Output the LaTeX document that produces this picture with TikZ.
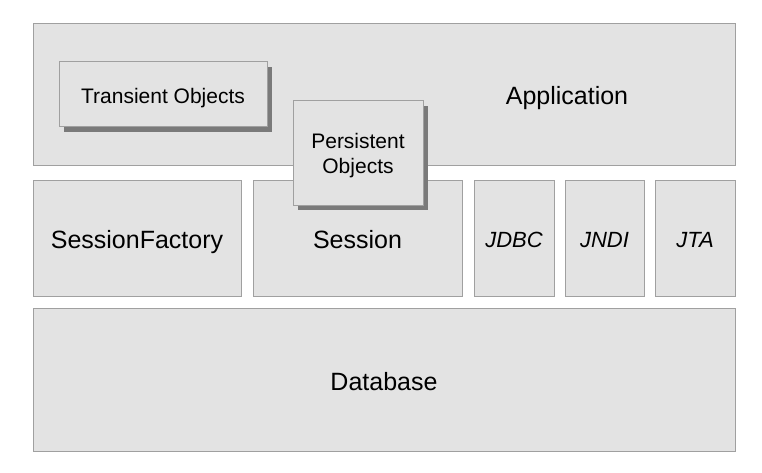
\documentclass[tikz,border=0pt]{standalone}
\usepackage{fontspec}
\setmainfont{Liberation Sans}
\usetikzlibrary{shadows}
\definecolor{boxfill}{HTML}{E3E3E3}
\definecolor{boxline}{HTML}{A0A0A0}
\definecolor{shadowc}{HTML}{7A7A7A}
\begin{document}
\begin{tikzpicture}[x=1pt,y=-1pt,
  layer/.style={draw=boxline, fill=boxfill, line width=1pt, inner sep=0pt, rectangle},
  objbox/.style={layer, drop shadow={shadow xshift=5pt, shadow yshift=-5pt, fill=shadowc, opacity=1}, align=center},
  big/.style={font=\fontsize{25}{30}\selectfont},
  small/.style={font=\fontsize{21}{24}\selectfont},
  ital/.style={font=\fontsize{22}{26}\selectfont\itshape}
]
\useasboundingbox[fill=white] (0,0) rectangle (762,473);
% Application layer
\node[layer, minimum width=702pt, minimum height=142pt] (app) at (384,95) {};
\node[big] (applbl) at (567,98) {Application};
% Middle layer
\node[layer, minimum width=208pt, minimum height=116pt] (sf) at (137,238) {};
\node[big] (sflbl) at (137,242) {SessionFactory};
\node[layer, minimum width=209pt, minimum height=116pt] (sess) at (357.5,238) {};
\node[big] (sesslbl) at (357.5,240) {Session};
\node[layer, minimum width=80pt, minimum height=116pt] (jdbc) at (514,238) {};
\node[ital] (jdbclbl) at (514,240) {JDBC};
\node[layer, minimum width=79pt, minimum height=116pt] (jndi) at (604.5,238) {};
\node[ital] (jndilbl) at (604.5,240) {JNDI};
\node[layer, minimum width=80pt, minimum height=116pt] (jta) at (695,238) {};
\node[ital] (jtalbl) at (695,240) {JTA};
% Database
\node[layer, minimum width=702pt, minimum height=143pt] (db) at (384,379.5) {};
\node[big] (dblbl) at (384,382) {Database};
% Objects
\node[objbox, minimum width=208pt, minimum height=65pt] (trans) at (163,94.5) {};
\node[small] (translbl) at (163,98) {Transient Objects};
\node[objbox, minimum width=130pt, minimum height=104pt] (pers) at (358,153) {};
\node[small, align=center] (perslbl) at (358,156) {Persistent\\[1pt]Objects};
\end{tikzpicture}
\end{document}
